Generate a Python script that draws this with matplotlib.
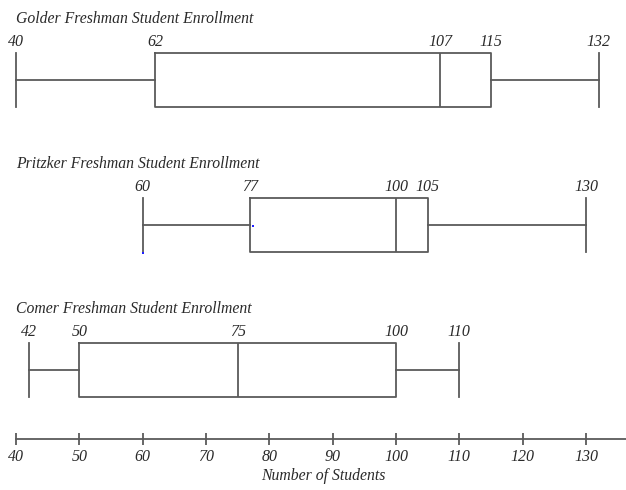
import matplotlib
matplotlib.use("Agg")
import matplotlib.pyplot as plt

# Five-number summaries of freshman enrollment per college
schools = ["Golder", "Pritzker", "Comer"]
mins = [40, 60, 42]
q1s = [62, 77, 50]
medians = [107, 100, 75]
q3s = [115, 105, 100]
maxs = [132, 130, 110]

axis_ticks = [40, 50, 60, 70, 80, 90, 100, 110, 120, 130]
x_label = "Number of Students"

W, H = 626, 490
fig = plt.figure(figsize=(W / 100, H / 100), dpi=100)
ax = fig.add_axes([0, 0, 1, 1])

# horizontal scale: 40 sits 16 px from the left, 10 students = 63.33 px
px_per_unit = 570 / 90
x0 = 40 - 16 / px_per_unit
x1 = 40 + (W - 16) / px_per_unit
ax.set_xlim(x0, x1)
ax.set_ylim(H, 0)

line_col = "#5a5a5a"
text_col = "#2a2a2a"
font = dict(family="Liberation Serif", style="italic", color=text_col)

centers = [80, 225, 370]
box_h = 54

stats = []
for name, lo, q1, med, q3, hi in zip(schools, mins, q1s, medians, q3s, maxs):
    stats.append(dict(label=name, whislo=lo, q1=q1, med=med, q3=q3, whishi=hi, fliers=[]))

lw = 1.3
ax.bxp(stats, positions=centers, widths=box_h, capwidths=box_h,
       orientation="horizontal", manage_ticks=False, showfliers=False,
       boxprops=dict(color=line_col, linewidth=lw),
       medianprops=dict(color=line_col, linewidth=lw),
       whiskerprops=dict(color=line_col, linewidth=lw),
       capprops=dict(color=line_col, linewidth=lw))

for name, c, lo, q1, med, q3, hi in zip(schools, centers, mins, q1s, medians, q3s, maxs):
    top = c - box_h / 2
    ax.text(x0 + 16 / px_per_unit, top - 34, f"{name} Freshman Student Enrollment",
            fontsize=11.3, ha="left", va="center", **font)
    for v in (lo, q1, med, q3, hi):
        ax.text(v, top - 11, str(v), fontsize=11.5, ha="center", va="center", **font)

# stray blue specks on the Pritzker plot
ax.plot([60.1, 77.4], [253, 226], linestyle="none", marker="s", markersize=2.0,
        color="#2020ff", markeredgewidth=0)

# number line
for side in ("left", "right", "top"):
    ax.spines[side].set_visible(False)
ax.spines["bottom"].set_position(("data", 439))
ax.spines["bottom"].set_bounds(40, x1)
ax.spines["bottom"].set_color(line_col)
ax.spines["bottom"].set_linewidth(lw)
ax.set_yticks([])
ax.set_xticks(axis_ticks)
ax.set_xticklabels([str(t) for t in axis_ticks])
ax.tick_params(axis="x", direction="inout", length=8, width=lw, color=line_col,
               pad=3, labelsize=11.5, labelcolor=text_col)
for lab in ax.get_xticklabels():
    lab.set_family("Liberation Serif")
    lab.set_style("italic")

ax.text(40 + (323 - 16) / px_per_unit, 476, x_label, fontsize=11.3,
        ha="center", va="center", **font)

fig.savefig("out.png", dpi=100)
